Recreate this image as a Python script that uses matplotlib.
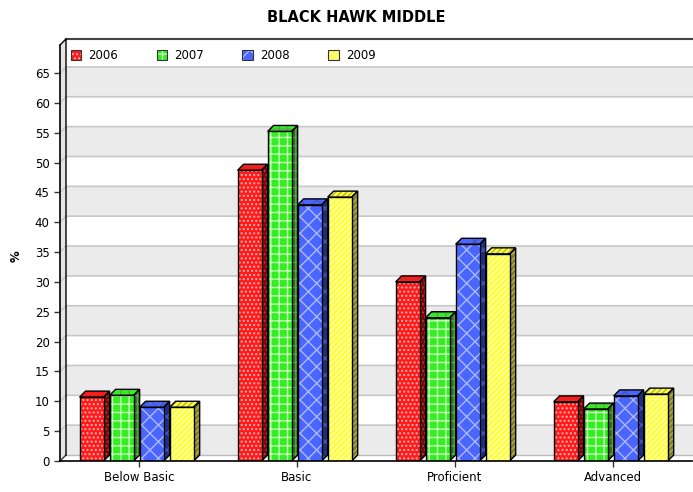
import matplotlib.pyplot as plt
import numpy as np
from matplotlib.patches import Polygon, Rectangle, Patch
from matplotlib.legend_handler import HandlerTuple

categories = ['Below Basic', 'Basic', 'Proficient', 'Advanced']
years = ['2006', '2007', '2008', '2009']
pct_2006 = [10.7, 48.7, 30.0, 9.9]
pct_2007 = [11.0, 55.2, 24.0, 8.7]
pct_2008 = [9.0, 42.9, 36.3, 10.9]
pct_2009 = [9.0, 44.2, 34.7, 11.2]
yticks = list(range(0, 70, 5))

series = [pct_2006, pct_2007, pct_2008, pct_2009]
# front colour, hatch colour, side colour, side hatch colour, hatch
styles = [
    ('#ff1a1a', '#ffb0b0', '#7a0808', '#c83030', '....'),
    ('#33ee22', '#ccffbb', '#2a6e1c', '#55aa44', '++'),
    ('#4a66ff', '#aab8ff', '#1e2e80', '#4455bb', 'xx'),
    ('#ffff33', '#ffffc8', '#7e7e26', '#b0b050', '//////'),
]
offsets = [-0.30, -0.11, 0.08, 0.27]
bw = 0.152

plt.rcParams['font.family'] = 'DejaVu Sans'
plt.rcParams['hatch.linewidth'] = 1.0

W, H = 693, 492
fig = plt.figure(figsize=(W / 100, H / 100), dpi=100)
ax = fig.add_axes([60 / W, (H - 461) / H, 632 / W, (461 - 45) / H])
x0, x1 = -0.5, 3.5
ytop = (461 - 45) / 5.97
ax.set_xlim(x0, x1)
ax.set_ylim(0, ytop)

# 3d depth, 6 px each way, in data units
ddx = 6 * (x1 - x0) / 632
ddy = 6 * ytop / 416

# back wall bands + grid lines
for k, v in enumerate(yticks):
    top = min(v + 5, ytop)
    col = '#ebebeb' if k % 2 == 0 else 'white'
    ax.add_patch(Rectangle((x0 + ddx, v + ddy), x1 - x0, top - v, facecolor=col,
                           edgecolor='none', zorder=0.2, clip_on=False))
    ax.add_patch(Polygon([(x0, v), (x0 + ddx, v + ddy), (x0 + ddx, top + ddy), (x0, top)],
                         facecolor='#e4e4e4', edgecolor='none', zorder=0.2, clip_on=False))
    if v > 0:
        ax.plot([x0, x0 + ddx, x1 + ddx], [v, v + ddy, v + ddy], color='#c8c8c8',
                lw=1.2, zorder=0.3, clip_on=False)
# top band above last tick
ax.add_patch(Polygon([(x0, yticks[-1] + 5), (x0 + ddx, yticks[-1] + 5 + ddy),
                      (x0 + ddx, ytop + ddy), (x0, ytop)],
                     facecolor='white', edgecolor='none', zorder=0.25, clip_on=False))
# floor
ax.add_patch(Polygon([(x0, 0), (x1, 0), (x1 + ddx, ddy), (x0 + ddx, ddy)],
                     facecolor='white', edgecolor='none', zorder=0.3, clip_on=False))
ax.plot([x0 + ddx, x1 + ddx], [ddy, ddy], color='#bbbbbb', lw=1, zorder=0.35, clip_on=False)
ax.plot([x0, x0 + ddx], [0, ddy], color='#333333', lw=1, zorder=0.35, clip_on=False)
# frame of the wall
ax.plot([x0 + ddx, x1 + ddx], [ytop + ddy, ytop + ddy], color='#444444', lw=1.5,
        zorder=0.4, clip_on=False)
ax.plot([x0, x0 + ddx, x0 + ddx], [ytop, ytop + ddy, ddy], color='black', lw=1,
        zorder=0.4, clip_on=False)

# bars
xs_base = np.arange(len(categories))
for i, vals in enumerate(series):
    face, hcol, side, shcol, hatch = styles[i]
    xs = xs_base + offsets[i]
    ax.bar(xs, vals, width=bw, color=face, hatch=hatch, edgecolor=hcol, lw=0, zorder=2)
    ax.bar(xs, vals, width=bw, fill=False, edgecolor='black', lw=1, zorder=2.1)
    for x, v in zip(xs, vals):
        xl, xr = x - bw / 2, x + bw / 2
        side_pts = [(xr, 0), (xr + ddx, ddy), (xr + ddx, v + ddy), (xr, v)]
        top_pts = [(xl, v), (xr, v), (xr + ddx, v + ddy), (xl + ddx, v + ddy)]
        ax.add_patch(Polygon(side_pts, facecolor=side, hatch=hatch, edgecolor=shcol, lw=0, zorder=1.9))
        ax.add_patch(Polygon(side_pts, fill=False, edgecolor='black', lw=1, zorder=1.95))
        ax.add_patch(Polygon(top_pts, facecolor=face, hatch=hatch, edgecolor=shcol, lw=0, zorder=1.9))
        ax.add_patch(Polygon(top_pts, fill=False, edgecolor='black', lw=1, zorder=1.95))

# axes
for s in ['top', 'right']:
    ax.spines[s].set_visible(False)
ax.spines['left'].set_linewidth(1.2)
ax.spines['bottom'].set_linewidth(1.2)
ax.spines['left'].set_zorder(3)
ax.spines['bottom'].set_zorder(3)
ax.set_yticks(yticks)
ax.set_xticks(xs_base)
ax.set_xticklabels(categories)
ax.tick_params(axis='both', labelsize=8.5, length=4, width=1, color='#333333')
ax.tick_params(axis='x', pad=3)

handles = []
for face, hcol, side, shcol, hatch in styles:
    handles.append((Patch(facecolor=face, hatch=hatch, edgecolor=hcol, lw=0),
                    Patch(fill=False, edgecolor='#333333', lw=0.8)))
ax.legend(handles, years, handler_map={tuple: HandlerTuple(ndivide=1)}, ncol=4,
          loc='upper left', bbox_to_anchor=(0.002, 1.012), frameon=False, fontsize=8.5,
          handlelength=0.9, handleheight=0.9, handletextpad=0.6, columnspacing=3.25,
          borderaxespad=0.4)

fig.text(356 / W, 1 - 18 / H, 'BLACK HAWK MIDDLE', ha='center', va='center',
         fontsize=10.5, fontweight='bold')
fig.text(16 / W, 1 - 256 / H, '%', ha='center', va='center', rotation=90,
         fontsize=8.5, fontweight='bold')

fig.savefig('out.png', dpi=100)
